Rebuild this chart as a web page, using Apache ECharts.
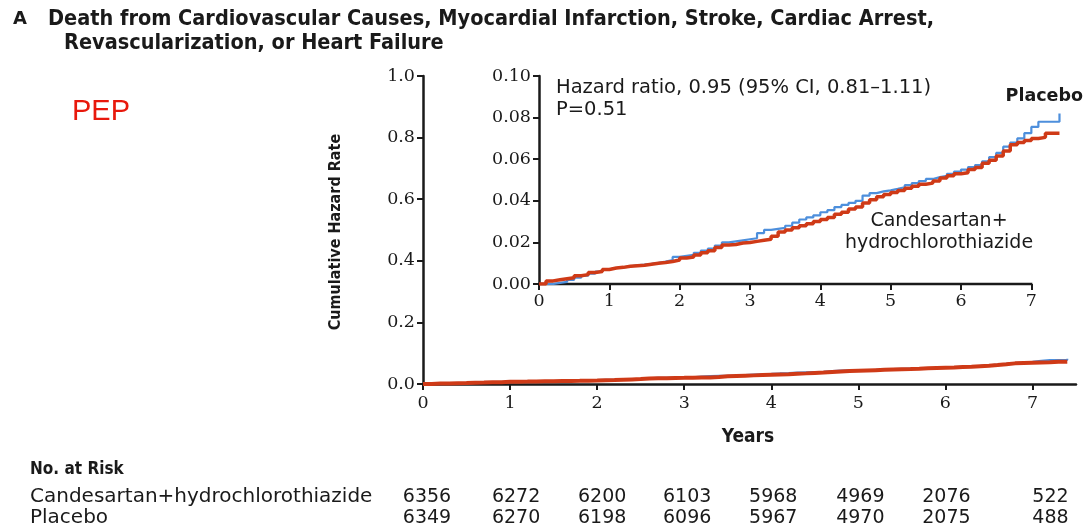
<!DOCTYPE html>
<html>
<head>
<meta charset="utf-8">
<script src="https://cdn.jsdelivr.net/npm/echarts@6/dist/echarts.min.js"></script>
<style>
  html, body { margin: 0; padding: 0; background: #fff; }
  #chart { width: 1089px; height: 532px; }
</style>
</head>
<body>
<div id="chart"></div>
<script>
// Follow-up times (years)
const years = [
  0.0, 0.1, 0.2, 0.3, 0.4, 0.5, 0.6, 0.7, 0.8, 0.9,
  1.0, 1.1, 1.2, 1.3, 1.4, 1.5, 1.6, 1.7, 1.8, 1.9,
  2.0, 2.1, 2.2, 2.3, 2.4, 2.5, 2.6, 2.7, 2.8, 2.9,
  3.0, 3.1, 3.2, 3.3, 3.4, 3.5, 3.6, 3.7, 3.8, 3.9,
  4.0, 4.1, 4.2, 4.3, 4.4, 4.5, 4.6, 4.7, 4.8, 4.9,
  5.0, 5.1, 5.2, 5.3, 5.4, 5.5, 5.6, 5.7, 5.8, 5.9,
  6.0, 6.1, 6.2, 6.3, 6.4, 6.5, 6.6, 6.7, 6.8, 6.9,
  7.0, 7.1, 7.2, 7.3, 7.4
];
// Cumulative hazard, candesartan + hydrochlorothiazide
const candesartan = [
  0, 0.0015, 0.002, 0.0025, 0.003, 0.004, 0.0045, 0.0055, 0.006, 0.007,
  0.0077, 0.008, 0.0085, 0.0088, 0.009, 0.0095, 0.010, 0.0103, 0.0108, 0.0115,
  0.0125, 0.013, 0.014, 0.015, 0.016, 0.0175, 0.0187, 0.019, 0.0197, 0.020,
  0.0205, 0.021, 0.0215, 0.023, 0.025, 0.026, 0.027, 0.028, 0.029, 0.030,
  0.031, 0.032, 0.0335, 0.0345, 0.036, 0.037, 0.039, 0.0405, 0.042, 0.043,
  0.044, 0.045, 0.046, 0.047, 0.048, 0.0485, 0.0495, 0.051, 0.052, 0.053,
  0.0535, 0.055, 0.056, 0.058, 0.0595, 0.0615, 0.064, 0.067, 0.068, 0.069,
  0.070, 0.0705, 0.0725, 0.0725, 0.0725
];
// Cumulative hazard, placebo
const placebo = [
  0, 0, 0.0005, 0.001, 0.002, 0.003, 0.004, 0.005, 0.006, 0.007,
  0.0077, 0.008, 0.0085, 0.009, 0.0093, 0.0097, 0.0102, 0.0108, 0.0115, 0.013,
  0.0135, 0.014, 0.015, 0.016, 0.017, 0.0185, 0.020, 0.0205, 0.021, 0.0215,
  0.022, 0.0245, 0.026, 0.0265, 0.027, 0.028, 0.0295, 0.031, 0.032, 0.033,
  0.0345, 0.0355, 0.037, 0.038, 0.039, 0.040, 0.0425, 0.0437, 0.0445, 0.045,
  0.0457, 0.0465, 0.0475, 0.0485, 0.0495, 0.0505, 0.0514, 0.052, 0.053, 0.054,
  0.055, 0.0562, 0.0572, 0.059, 0.061, 0.063, 0.066, 0.068, 0.070, 0.0725,
  0.0755, 0.078, 0.078, 0.078, 0.082
];

// Axis ticks
const yearTicks = [0, 1, 2, 3, 4, 5, 6, 7];
const mainYTicks = ['0.0', '0.2', '0.4', '0.6', '0.8', '1.0'];
const insetYTicks = ['0.00', '0.02', '0.04', '0.06', '0.08', '0.10'];

// Number at risk
const riskGroups = ['Candesartan+hydrochlorothiazide', 'Placebo'];
const riskCandesartan = [6356, 6272, 6200, 6103, 5968, 4969, 2076, 522];
const riskPlacebo = [6349, 6270, 6198, 6096, 5967, 4970, 2075, 488];

const RED = '#cf3a17';
const BLUE = '#4d8fdc';
const INK = '#1a1a1a';
const SANS = '"DejaVu Sans", sans-serif';
const COND = '"DejaVu Sans Condensed", "DejaVu Sans", sans-serif';
const SERIF = '"DejaVu Serif", "Liberation Serif", serif';

const pairs = arr => years.map((t, i) => [t, arr[i]]);

const chart = echarts.init(document.getElementById('chart'), null, { renderer: 'canvas' });

const axisLineStyle = { color: INK, width: 2.5 };
function axisCommon(extra) {
  return Object.assign({
    axisLine: { show: true, onZero: false, lineStyle: axisLineStyle },
    axisTick: { show: true, inside: false, length: 6, lineStyle: { color: INK, width: 2 } },
    splitLine: { show: false }
  }, extra);
}
const tickFont = { color: INK, fontFamily: SERIF, fontSize: 17.5 };

const option = {
  animation: false,
  backgroundColor: '#fff',
  grid: [
    { left: 423, top: 76, right: 13, bottom: 148 },
    // inset: years 0-7.45 so the last steps run past the 7-year tick
    { left: 539, top: 76, right: 26, bottom: 248, z: 5 }
  ],
  xAxis: [
    axisCommon({
      gridIndex: 0, type: 'value', min: 0, max: 7.5, interval: 1,
      axisTick: { show: true, length: 6, customValues: yearTicks, lineStyle: { color: INK, width: 2 } },
      axisLabel: Object.assign({}, tickFont, { margin: 10, customValues: yearTicks, formatter: v => String(v) })
    }),
    axisCommon({
      gridIndex: 1, type: 'value', min: 0, max: 7.45, interval: 1,
      axisLine: { show: false },
      axisTick: { show: true, length: 6, customValues: yearTicks, lineStyle: { color: INK, width: 2 } },
      axisLabel: Object.assign({}, tickFont, { margin: 8, customValues: yearTicks, formatter: v => String(v) })
    })
  ],
  yAxis: [
    axisCommon({
      gridIndex: 0, type: 'value', min: 0, max: 1, interval: 0.2,
      axisLabel: Object.assign({}, tickFont, { margin: 8,
        formatter: v => mainYTicks[Math.round(v / 0.2)] })
    }),
    axisCommon({
      gridIndex: 1, type: 'value', min: 0, max: 0.1, interval: 0.02,
      axisLabel: Object.assign({}, tickFont, { margin: 8,
        formatter: v => insetYTicks[Math.round(v / 0.02)] })
    })
  ],
  series: [
    { type: 'line', xAxisIndex: 0, yAxisIndex: 0, step: 'end', showSymbol: false,
      data: pairs(placebo), lineStyle: { color: BLUE, width: 2 }, z: 2 },
    { type: 'line', xAxisIndex: 0, yAxisIndex: 0, step: 'end', showSymbol: false,
      data: pairs(candesartan), lineStyle: { color: RED, width: 4 }, z: 3 },
    { type: 'line', xAxisIndex: 1, yAxisIndex: 1, step: 'end', showSymbol: false,
      data: pairs(placebo), lineStyle: { color: BLUE, width: 2.2 }, z: 6 },
    { type: 'line', xAxisIndex: 1, yAxisIndex: 1, step: 'end', showSymbol: false,
      data: pairs(candesartan), lineStyle: { color: RED, width: 3.5 }, z: 7 }
  ]
};
chart.setOption(option);

// Titles, annotations and the number-at-risk table
const txt = (x, y, text, style) => ({
  type: 'text', x, y,
  style: Object.assign({ text, fill: INK, fontFamily: SANS, fontSize: 16, textVerticalAlign: 'middle' }, style)
});

// Inset x-axis line stops at the 7-year tick
const ax0 = chart.convertToPixel({ xAxisIndex: 1, yAxisIndex: 1 }, [0, 0]);
const ax7 = chart.convertToPixel({ xAxisIndex: 1, yAxisIndex: 1 }, [7, 0]);

const g = [
  { type: 'line', z: 4, shape: { x1: ax0[0] - 1, y1: ax0[1], x2: ax7[0] + 1, y2: ax7[1] },
    style: { stroke: INK, lineWidth: axisLineStyle.width } },
  txt(13, 19, 'A', { fontSize: 18, fontWeight: 'bold' }),
  txt(48, 19, 'Death from Cardiovascular Causes, Myocardial Infarction, Stroke, Cardiac Arrest,', { fontSize: 21.5, fontWeight: 'bold', fontFamily: COND }),
  txt(64, 43, 'Revascularization, or Heart Failure', { fontSize: 21.5, fontWeight: 'bold', fontFamily: COND }),
  txt(72, 112, 'PEP', { fill: '#e8180c', fontSize: 29, fontFamily: '"Liberation Sans", sans-serif' }),
  { type: 'text', x: 336, y: 232, rotation: Math.PI / 2,
    style: { text: 'Cumulative Hazard Rate', fill: INK, fontFamily: COND, fontSize: 16, fontWeight: 'bold',
      textAlign: 'center', textVerticalAlign: 'middle' } },
  txt(748, 437, 'Years', { fontSize: 19, fontWeight: 'bold', textAlign: 'center', fontFamily: COND }),
  txt(556, 88, 'Hazard ratio, 0.95 (95% CI, 0.81\u20131.11)', { fontFamily: SANS, fontSize: 19.5 }),
  txt(556, 110, 'P=0.51', { fontFamily: SANS, fontSize: 19.5 }),
  txt(1083, 96, 'Placebo', { fontFamily: SANS, fontSize: 17.5, fontWeight: 'bold', textAlign: 'right' }),
  txt(939, 221, 'Candesartan+', { fontFamily: SANS, fontSize: 19, textAlign: 'center' }),
  txt(939, 243, 'hydrochlorothiazide', { fontFamily: SANS, fontSize: 19, textAlign: 'center' }),
  txt(30, 470, 'No. at Risk', { fontSize: 17, fontWeight: 'bold', fontFamily: COND }),
  txt(30, 497, riskGroups[0], { fontSize: 20, fontFamily: SANS }),
  txt(30, 518, riskGroups[1], { fontSize: 20, fontFamily: SANS })
];

// Risk columns sit just right of the main axis ticks
const colShift = [4, 6, 5, 3, 2, 2, 1, 18];
yearTicks.forEach((t, i) => {
  const px = chart.convertToPixel({ xAxisIndex: 0 }, t) + colShift[i];
  g.push(txt(px, 497, String(riskCandesartan[i]), { fontSize: 19, fontFamily: SANS, textAlign: 'center' }));
  g.push(txt(px, 518, String(riskPlacebo[i]), { fontSize: 19, fontFamily: SANS, textAlign: 'center' }));
});

chart.setOption({ graphic: { elements: g } });
</script>
</body>
</html>
